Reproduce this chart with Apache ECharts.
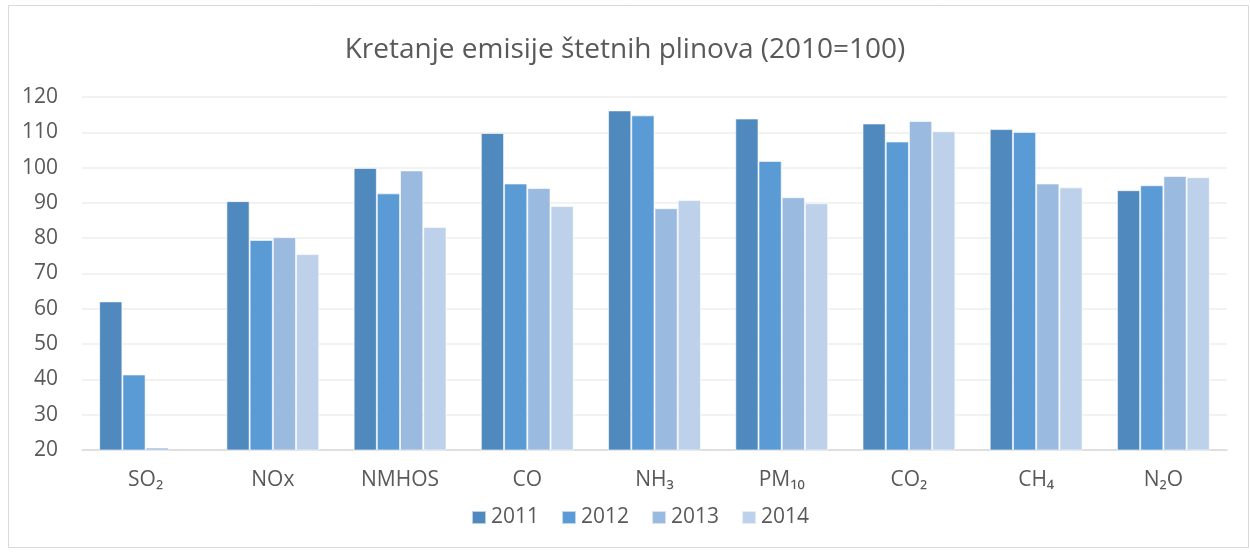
<!DOCTYPE html>
<html>
<head>
<meta charset="utf-8">
<script src="https://cdn.jsdelivr.net/npm/echarts@6/dist/echarts.min.js"></script>
<style>
  html, body { margin: 0; padding: 0; background: #fff; }
  #main { width: 1250px; height: 552px; }
</style>
</head>
<body>
<div id="main"></div>
<script>
// kategorije i vrijednosti (2010 = 100)
const categories = ['SO₂', 'NOx', 'NMHOS', 'CO', 'NH₃', 'PM₁₀', 'CO₂', 'CH₄', 'N₂O']
const years = ['2011', '2012', '2013', '2014']
const v2011 = [62.1, 90.5, 99.9, 109.8, 116.2, 113.9, 112.5, 110.9, 93.6]
const v2012 = [41.4, 79.5, 92.7, 95.5, 114.8, 101.9, 107.4, 110.1, 95.0]
const v2013 = [20.7, 80.3, 99.2, 94.2, 88.5, 91.6, 113.2, 95.5, 97.6]
const v2014 = [20.1, 75.5, 83.2, 89.1, 90.8, 89.9, 110.3, 94.4, 97.3]
const yTicks = [20, 30, 40, 50, 60, 70, 80, 90, 100, 110, 120]

const colors = ['#4f89bd', '#5b9bd5', '#9bbae0', '#bdd1ea']
const font = "'Open Sans', sans-serif"
const textColor = '#595959'

const chart = echarts.init(document.getElementById('main'))

const seriesData = [v2011, v2012, v2013, v2014]

const option = {
  animation: false,
  backgroundColor: '#fff',
  color: colors,
  title: {
    text: 'Kretanje emisije štetnih plinova (2010=100)',
    left: 'center',
    top: 31,
    textStyle: {
      fontFamily: font,
      fontSize: 28,
      fontWeight: 'normal',
      color: textColor
    }
  },
  legend: {
    data: years,
    bottom: 19,
    left: 466,
    itemWidth: 14,
    itemHeight: 13,
    itemGap: 22,
    icon: 'rect',
    textStyle: { fontFamily: font, fontSize: 21, color: textColor }
  },
  grid: {
    left: 82,
    right: 23,
    top: 97,
    bottom: 102,
    containLabel: false
  },
  xAxis: {
    type: 'category',
    data: categories,
    axisLine: { lineStyle: { color: '#d9d9d9', width: 1.5 } },
    axisTick: { show: false },
    axisLabel: { fontFamily: font, fontSize: 21, color: textColor, margin: 20 }
  },
  yAxis: {
    type: 'value',
    min: yTicks[0],
    max: yTicks[yTicks.length - 1],
    interval: 10,
    axisLine: { show: false },
    axisTick: { show: false },
    axisLabel: { fontFamily: font, fontSize: 21, color: textColor, margin: 24 },
    splitLine: { lineStyle: { color: '#eeeeee', width: 1.5 } }
  },
  series: seriesData.map((d, i) => ({
    name: years[i],
    type: 'bar',
    data: d,
    barGap: '0%',
    barCategoryGap: '27%',
    itemStyle: { color: colors[i], borderColor: 'rgba(255,255,255,0.6)', borderWidth: 1 }
  })),
  graphic: [{
    type: 'rect',
    shape: { x: 8.5, y: 5.5, width: 1240, height: 542 },
    style: { fill: 'none', stroke: '#d9d9d9', lineWidth: 1 },
    silent: true
  }]
}

chart.setOption(option)
</script>
</body>
</html>
